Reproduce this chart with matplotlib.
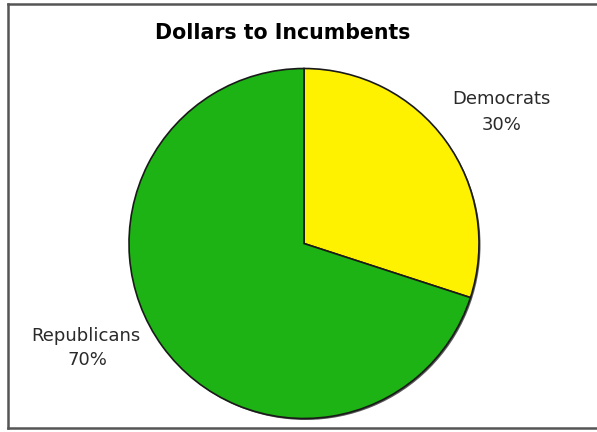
import matplotlib
matplotlib.use("Agg")
import matplotlib.pyplot as plt
from matplotlib.lines import Line2D

title = "Dollars to Incumbents"
parties = ["Democrats", "Republicans"]
shares = [30, 70]
colors = ["#FFF200", "#1DB314"]

W, H = 597, 432
fig = plt.figure(figsize=(W / 100, H / 100), dpi=100)
fig.patch.set_facecolor("white")
ax = fig.add_axes([0, 0, 1, 1])

cx, cy, r = 304, H - 243.5, 175

# shadow for slight 3D feel
ax.pie([1], colors=["#5a5a5a"], radius=r, center=(cx + 1.5, cy - 1.5),
       frame=True, wedgeprops=dict(linewidth=0))
wedges, _ = ax.pie(shares, colors=colors, startangle=90, counterclock=False,
                   radius=r, center=(cx, cy), frame=True,
                   wedgeprops=dict(edgecolor="#1a1a1a", linewidth=1.2))
ax.set_xlim(0, W)
ax.set_ylim(0, H)
ax.set_aspect("equal")
ax.axis("off")

# labels: (center x, name baseline, percent baseline) in pixels from top
label_pos = [(501, 104, 130), (86, 341, 365)]
for (x, y1, y2), name, val in zip(label_pos, parties, shares):
    ax.text(x, H - y1, name, ha="center", va="baseline", fontsize=13,
            color="#2a2a2a", family="DejaVu Sans")
    ax.text(x + 1, H - y2, f"{val}%", ha="center", va="baseline", fontsize=13,
            color="#2a2a2a", family="DejaVu Sans")

ax.text(282.5, H - 39, title, ha="center", va="baseline", fontsize=14.8,
        fontweight="bold", family="DejaVu Sans", color="black")

# frame lines (top, left, bottom)
frame_col = "#555555"
ax.add_line(Line2D([8, W], [H - 3.5, H - 3.5], color=frame_col, lw=1.8))
ax.add_line(Line2D([8, 8], [H - 3.5, H - 428], color=frame_col, lw=1.8))
ax.add_line(Line2D([8, W], [H - 428, H - 428], color=frame_col, lw=1.8))

fig.savefig("out.png", dpi=100, facecolor="white")
